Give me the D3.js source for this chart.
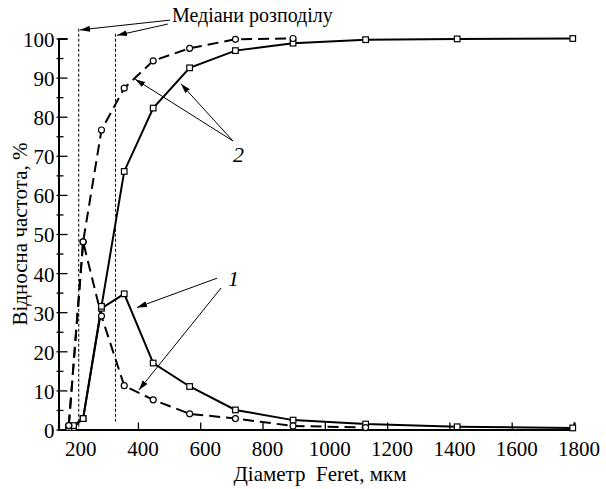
<!DOCTYPE html>
<html>
<head>
<meta charset="utf-8">
<script src="https://cdn.jsdelivr.net/npm/d3@7"></script>
<style>
  body { margin: 0; background: #fff; }
  svg text, .serif { font-family: "Liberation Serif" !important; }
</style>
</head>
<body>
<svg width="606" height="489"></svg>
<script>
// size classes (mkm)
var sizes = [178, 193, 224, 283, 356, 449, 566, 713, 898, 1131, 1425, 1796];
var freqSquares = [0.5, 0.5, 2.8, 31, 34.7, 17, 11, 5, 2.4, 1.4, 0.7, 0.4];
var cumSquares = [0.5, 1.0, 2.8, 31.5, 66, 82.2, 92.5, 96.9, 98.8, 99.7, 99.9, 100];

var circleSizes = [178, 224, 283, 356, 449, 566, 713, 898, 1131];
var freqCircles = [1, 48, 29, 11.2, 7.6, 4.0, 2.8, 0.9, 0.5];
var cumCircles = [1, 48, 76.6, 87.3, 94.3, 97.5, 99.8, 100];

var medians = [210, 328];
var xTicks = [200, 400, 600, 800, 1000, 1200, 1400, 1600, 1800];
var yTicks = [0, 10, 20, 30, 40, 50, 60, 70, 80, 90, 100];

var FONT = "Liberation Serif";

var svg = d3.select("svg");

var x = d3.scaleLinear().domain([145, 1800]).range([58.5, 574]),
    y = d3.scaleLinear().domain([0, 100]).range([429.5, 38.5]);

svg.append("defs").append("marker")
    .attr("id", "arrow")
    .attr("markerUnits", "userSpaceOnUse")
    .attr("viewBox", "0 -4 10 8")
    .attr("refX", 10).attr("refY", 0)
    .attr("markerWidth", 10).attr("markerHeight", 8)
    .attr("orient", "auto")
  .append("path")
    .attr("d", "M0,-3L10,0L0,3Z")
    .attr("fill", "#000");

// axes
var gx = svg.append("g")
    .attr("transform", "translate(0," + y(0) + ")")
    .call(d3.axisBottom(x).tickValues(xTicks).tickFormat(d3.format("d")).tickSize(-7).tickPadding(12))
    .attr("font-family", FONT)
    .attr("font-size", 21);
gx.select(".domain").attr("stroke-width", 2.2);
gx.selectAll(".tick line").attr("stroke-width", 1.3);
gx.selectAll(".tick text")
    .attr("class", "serif")
    .attr("font-family", FONT)
    .attr("dx", 4.5);

var gy = svg.append("g")
    .attr("transform", "translate(" + x(145) + ",0)")
    .call(d3.axisLeft(y).tickValues(yTicks).tickSize(-9).tickPadding(4))
    .attr("font-family", FONT)
    .attr("font-size", 21);
gy.select(".domain").attr("stroke-width", 2);
gy.selectAll(".tick line").attr("x1", -2).attr("stroke-width", 1.3);
gy.selectAll(".tick text")
    .attr("class", "serif")
    .attr("font-family", FONT)
    .attr("dy", "0.38em");

svg.append("g")
    .attr("transform", "translate(" + x(145) + ",0)")
    .call(d3.axisLeft(y).tickValues(d3.range(5, 100, 10)).tickSize(-5).tickFormat(""))
    .call(function(g) { g.select(".domain").remove(); })
    .selectAll(".tick line").attr("x1", -2).attr("stroke-width", 1.3);

svg.append("text")
    .attr("class", "serif")
    .attr("x", 320)
    .attr("y", 481)
    .attr("text-anchor", "middle")
    .attr("font-family", FONT)
    .attr("font-size", 21)
    .text("Діаметр\u00a0 Feret, мкм");

svg.append("text")
    .attr("class", "serif")
    .attr("transform", "translate(27," + ((y(0) + y(100)) / 2) + ") rotate(-90)")
    .attr("text-anchor", "middle")
    .attr("font-family", FONT)
    .attr("font-size", 21)
    .text("Відносна частота, %");

// medians
svg.selectAll(".median")
  .data(medians)
  .enter().append("line")
    .attr("class", "median")
    .attr("x1", function(d) { return x(d); })
    .attr("x2", function(d) { return x(d); })
    .attr("y1", function(d, i) { return y(i ? 101.2 : 102.5); })
    .attr("y2", function(d, i) { return y(i ? 2 : 0); })
    .attr("stroke", "#000")
    .attr("stroke-width", 1)
    .attr("stroke-dasharray", "3,2");

// lines
var line = d3.line()
    .x(function(d) { return x(d[0]); })
    .y(function(d) { return y(d[1]); });

var series = [
  {xs: sizes, ys: freqSquares, dash: null, shape: "square"},
  {xs: sizes, ys: cumSquares, dash: null, shape: "square"},
  {xs: circleSizes, ys: freqCircles, dash: "11,6", shape: "circle"},
  {xs: circleSizes, ys: cumCircles, dash: "11,6", shape: "circle"}
];

series.forEach(function(s) {
  var pts = s.ys.map(function(v, i) { return [s.xs[i], v]; });
  svg.append("path")
      .datum(pts)
      .attr("fill", "none")
      .attr("stroke", "#000")
      .attr("stroke-width", 2)
      .attr("stroke-dasharray", s.dash)
      .attr("d", line);
});

series.forEach(function(s) {
  var pts = s.ys.map(function(v, i) { return [s.xs[i], v]; });
  if (s.shape === "square") {
    svg.selectAll(null)
      .data(pts)
      .enter().append("rect")
        .attr("x", function(d) { return x(d[0]) - 2.8; })
        .attr("y", function(d) { return y(d[1]) - 2.8; })
        .attr("width", 5.6)
        .attr("height", 5.6)
        .attr("fill", "#fff")
        .attr("stroke", "#000")
        .attr("stroke-width", 1.2);
  } else {
    svg.selectAll(null)
      .data(pts)
      .enter().append("circle")
        .attr("cx", function(d) { return x(d[0]); })
        .attr("cy", function(d) { return y(d[1]); })
        .attr("r", 3)
        .attr("fill", "#fff")
        .attr("stroke", "#000")
        .attr("stroke-width", 1.2);
  }
});

// annotations (data coordinates)
var arrows = [
  [503, 104.7, 214, 102.2],
  [496, 103.7, 333, 100.8],
  [705, 73.8, 391, 89.6],
  [705, 73.8, 538, 88.4],
  [654, 38.7, 397, 31.2],
  [667, 36.2, 403, 10.1]
];

svg.selectAll(".arrow")
  .data(arrows)
  .enter().append("line")
    .attr("class", "arrow")
    .attr("x1", function(d) { return x(d[0]); })
    .attr("y1", function(d) { return y(d[1]); })
    .attr("x2", function(d) { return x(d[2]); })
    .attr("y2", function(d) { return y(d[3]); })
    .attr("stroke", "#000")
    .attr("stroke-width", 1)
    .attr("marker-end", "url(#arrow)");

svg.append("text")
    .attr("class", "serif")
    .attr("x", x(509))
    .attr("y", y(104.2))
    .attr("font-family", FONT)
    .attr("font-size", 20)
    .text("Медіани розподілу");

svg.append("text")
    .attr("class", "serif")
    .attr("x", x(705))
    .attr("y", y(68.5))
    .attr("font-family", FONT)
    .attr("font-size", 22)
    .attr("font-style", "italic")
    .text("2");

svg.append("text")
    .attr("class", "serif")
    .attr("x", x(689))
    .attr("y", y(36.7))
    .attr("font-family", FONT)
    .attr("font-size", 22)
    .attr("font-style", "italic")
    .text("1");
</script>
</body>
</html>
